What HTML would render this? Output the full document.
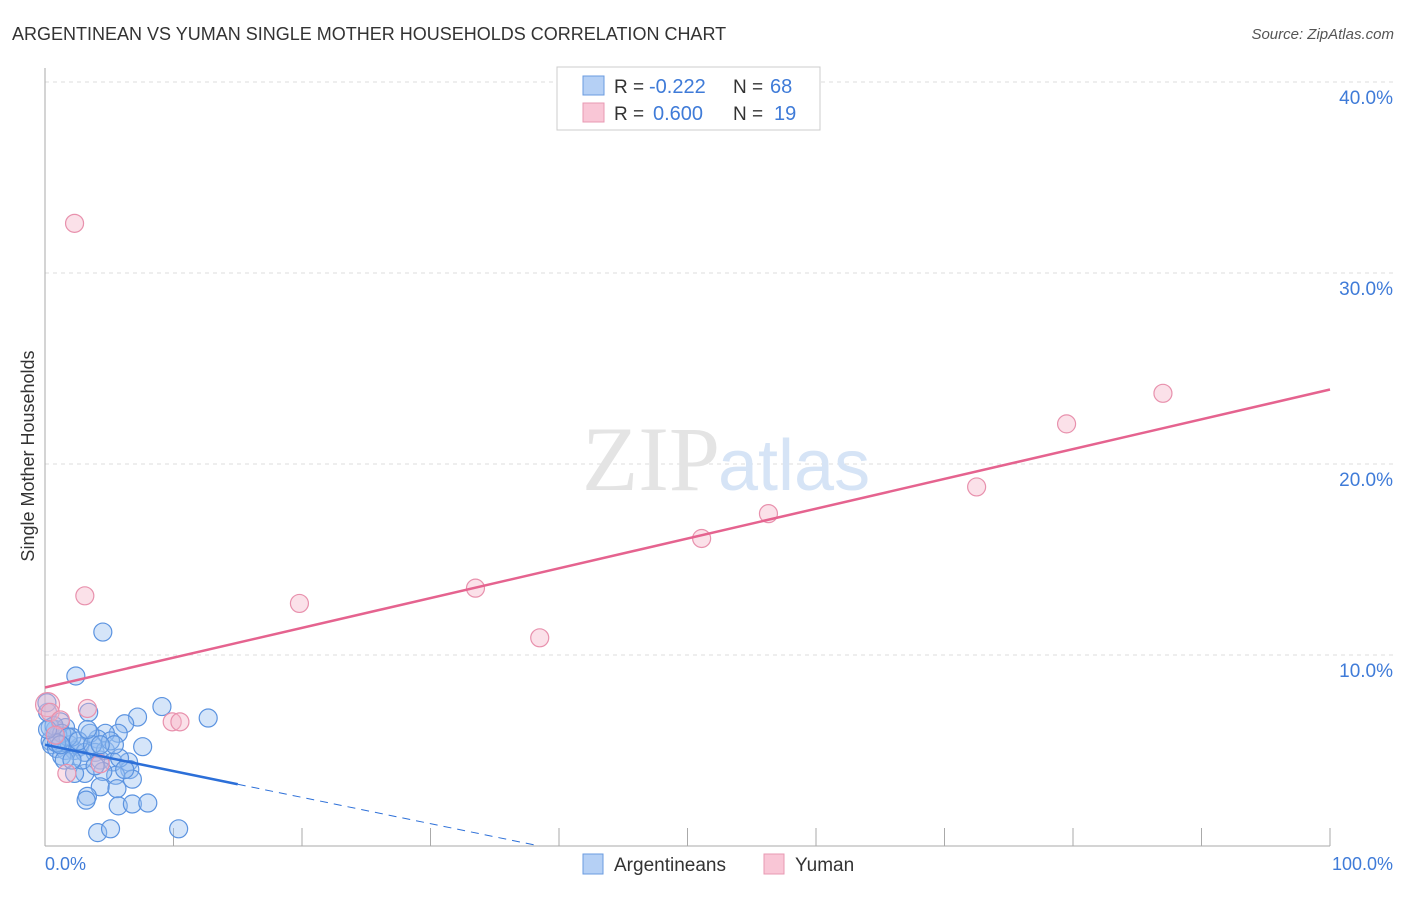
<!DOCTYPE html>
<html><head><meta charset="utf-8"><style>
body{margin:0;background:#fff;font-family:"Liberation Sans",sans-serif}
</style></head><body>
<svg width="1406" height="892" xmlns="http://www.w3.org/2000/svg">
<text x="12" y="40" font-size="18" fill="#333">ARGENTINEAN VS YUMAN SINGLE MOTHER HOUSEHOLDS CORRELATION CHART</text>
<text x="1394" y="39" font-size="15" fill="#555" font-style="italic" text-anchor="end">Source: ZipAtlas.com</text>
<g id="grid"></g>
<text x="720" y="490" font-size="92" fill="#e4e4e4" text-anchor="end" font-family="Liberation Serif">ZIP</text>
<text x="718" y="490" font-size="72" fill="#d6e4f6">atlas</text>
<g id="marks"></g>
<g>
<rect x="557" y="67" width="263" height="63" fill="#fff" stroke="#ccc"/>
<rect x="583" y="76" width="21" height="19" fill="#b5d0f5" stroke="#6a9be0"/>
<rect x="583" y="103" width="21" height="19" fill="#f9c6d6" stroke="#e899b3"/>
<text x="614" y="93" font-size="19" fill="#333">R =</text>
<text x="649" y="93" font-size="20" fill="#3f7bd8">-0.222</text>
<text x="733" y="93" font-size="19" fill="#333">N =</text>
<text x="770" y="93" font-size="20" fill="#3f7bd8">68</text>
<text x="614" y="120" font-size="19" fill="#333">R =</text>
<text x="653" y="120" font-size="20" fill="#3f7bd8">0.600</text>
<text x="733" y="120" font-size="19" fill="#333">N =</text>
<text x="774" y="120" font-size="20" fill="#3f7bd8">19</text>
</g>
<text transform="translate(34,456) rotate(-90)" font-size="18" fill="#333" text-anchor="middle">Single Mother Households</text>
<text x="45" y="870" font-size="18" fill="#3f7bd8">0.0%</text>
<text x="1393" y="870" font-size="18" fill="#3f7bd8" text-anchor="end">100.0%</text>
<g>
<rect x="583" y="854" width="20" height="20" fill="#b5d0f5" stroke="#6a9be0"/>
<text x="614" y="871" font-size="19" fill="#333">Argentineans</text>
<rect x="764" y="854" width="20" height="20" fill="#f9c6d6" stroke="#e899b3"/>
<text x="795" y="871" font-size="19" fill="#333">Yuman</text>
</g>
</svg>
<script>
const yTicks=[10,20,30,40];
const blueX=[4.5,2.4,9.1,7.2,12.7,6.2,3.4,7.6,5.7,4.7,4.1,3.5,1.2,0.8,0.4,0.5,0.9,1.6,1.9,2.3,2.7,3.1,3.9,4.3,4.7,5.3,6.5,6.6,6.8,5.5,4.5,3.1,2.3,4.3,5.6,3.3,3.2,5.7,6.8,8.0,4.1,5.1,10.4,1.3,1.6,2.1,1.0,0.4,0.2,0.15,0.7,1.3,1.8,2.6,3.7,5.1,2.9,3.9,5.8,1.5,0.9,0.2,1.2,2.1,3.3,5.4,4.3,6.2];
const blueY=[11.2,8.9,7.3,6.75,6.7,6.4,7.0,5.2,5.9,5.9,5.6,5.9,6.5,6.1,5.5,5.3,5.1,5.0,5.3,5.0,5.2,4.9,4.9,4.5,5.0,4.4,4.4,4.0,3.5,3.7,3.9,3.8,3.8,3.1,3.0,2.6,2.4,2.1,2.2,2.25,0.7,0.9,0.9,4.7,6.2,5.7,5.8,6.2,7.0,7.5,6.3,5.9,5.7,5.5,5.3,5.5,4.5,4.2,4.6,4.5,5.4,6.1,5.3,4.5,6.1,5.3,5.3,4.0];
const pinkX=[2.3,3.1,19.8,33.5,38.5,51.1,56.3,72.5,79.5,87.0,0.2,0.4,3.3,9.9,10.5,1.7,4.3,1.2,0.8];
const pinkY=[32.6,13.1,12.7,13.5,10.9,16.1,17.4,18.8,22.1,23.7,7.4,7.0,7.2,6.5,6.5,3.8,4.3,6.6,5.8];
const pinkTrend=[8.3,23.9];   // value at x=0, x=100
const blueTrend=[5.3,-0.1377]; // intercept, slope
const NS="http://www.w3.org/2000/svg";
const X=v=>45+v*12.85, Y=v=>846-v*19.1;
function mk(t,a,p){const e=document.createElementNS(NS,t);for(const k in a)e.setAttribute(k,a[k]);p.appendChild(e);return e;}
const grid=document.getElementById('grid'),marks=document.getElementById('marks');
for(const t of yTicks){
 const l=mk('line',{x1:45,x2:1393,y1:Y(t),y2:Y(t),stroke:'#ddd','stroke-dasharray':'4,4'},grid);
 
 
 const tx=mk('text',{x:1393,y:Y(t)+22,'font-size':19,fill:'#3f7bd8','text-anchor':'end'},grid);
 tx.textContent=t.toFixed(1)+'%';
 
 
}
mk('line',{x1:45,x2:45,y1:68,y2:846,stroke:'#aaa'},grid);
mk('line',{x1:45,x2:1330,y1:846,y2:846,stroke:'#aaa'},grid);
for(let i=1;i<=10;i++)mk('line',{x1:X(i*10),x2:X(i*10),y1:828,y2:846,stroke:'#aaa'},grid);
for(let i=0;i<blueX.length;i++){
 const c=mk('circle',{cx:X(blueX[i]),cy:Y(blueY[i]),r:9,fill:'rgba(150,190,240,0.4)',stroke:'#5b93e0','stroke-width':1.2},marks);
 
 
}
for(let i=0;i<pinkX.length;i++){
 const c=mk('circle',{cx:X(pinkX[i]),cy:Y(pinkY[i]),r:i==10?12:9,fill:'rgba(245,180,200,0.4)',stroke:'#e891ad','stroke-width':1.2},marks);
 
 
}
const pl=mk('line',{x1:X(0),y1:Y(pinkTrend[0]),x2:X(100),y2:Y(pinkTrend[1]),stroke:'#e5638f','stroke-width':2.5},marks);


const bEnd=-blueTrend[0]/blueTrend[1];
const bl=mk('line',{x1:X(0),y1:Y(blueTrend[0]),x2:X(15),y2:Y(blueTrend[0]+15*blueTrend[1]),stroke:'#2c6fd8','stroke-width':2.5},marks);


const bd=mk('line',{x1:X(15),y1:Y(blueTrend[0]+15*blueTrend[1]),x2:X(bEnd),y2:Y(0),stroke:'#2c6fd8','stroke-width':1,'stroke-dasharray':'8,6'},marks);


</script>
</body></html>
